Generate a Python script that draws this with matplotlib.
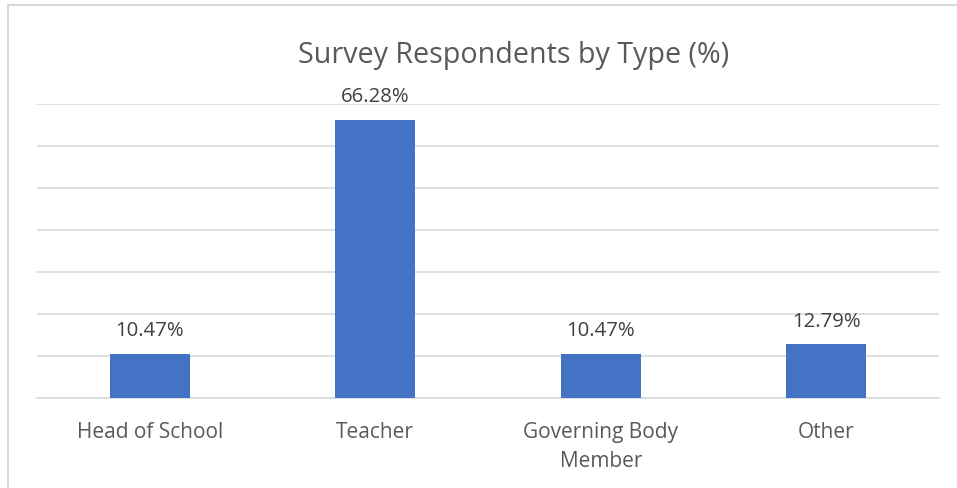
import matplotlib
matplotlib.use('Agg')
import matplotlib.pyplot as plt
from matplotlib.lines import Line2D

plt.rcParams['font.family'] = ['Open Sans', 'DejaVu Sans']

categories = ['Head of School', 'Teacher', 'Governing Body\nMember', 'Other']
values = [10.47, 66.28, 10.47, 12.79]
labels = ['10.47%', '66.28%', '10.47%', '12.79%']

TEXT = '#595959'
GRID = '#D9D9D9'
BAR = '#4472C4'

fig = plt.figure(figsize=(9.57, 4.89), dpi=100)
ax = fig.add_axes([37 / 957, 90 / 489, 902 / 957, 294 / 489])

x = range(len(categories))
bars = ax.bar(x, values, width=0.355, color=BAR, zorder=3)

for b, lab in zip(bars, labels):
    ax.annotate(lab, (b.get_x() + b.get_width() / 2, b.get_height()),
                xytext=(0, 13.5), textcoords='offset points',
                ha='center', va='baseline', fontsize=14.7, color='#404040')

ax.set_xlim(-0.5, len(categories) - 0.5)
ax.set_ylim(0, 70)
ax.set_yticks(range(0, 71, 10))
ax.yaxis.grid(True, color=GRID, linewidth=1.2, zorder=0)
ax.tick_params(axis='y', left=False, labelleft=False)
ax.set_xticks(list(x))
ax.set_xticklabels(categories, fontsize=15, color=TEXT, linespacing=1.5)
ax.tick_params(axis='x', length=0, pad=16.5)
for s in ['top', 'right', 'left']:
    ax.spines[s].set_visible(False)
ax.spines['bottom'].set_color(GRID)
ax.spines['bottom'].set_linewidth(1.2)

fig.text(0.537, 1 - 56 / 489, 'Survey Respondents by Type (%)', ha='center',
         va='center', fontsize=20.6, color=TEXT)

# chart frame (only top and left edges visible in the crop)
fig.add_artist(Line2D([8 / 957, 8 / 957], [0, 1 - 6 / 489], color='#D9D9D9',
                      linewidth=1.5, transform=fig.transFigure))
fig.add_artist(Line2D([8 / 957, 1], [1 - 6 / 489, 1 - 6 / 489], color='#D9D9D9',
                      linewidth=1.5, transform=fig.transFigure))

fig.savefig('out.png', dpi=100)
